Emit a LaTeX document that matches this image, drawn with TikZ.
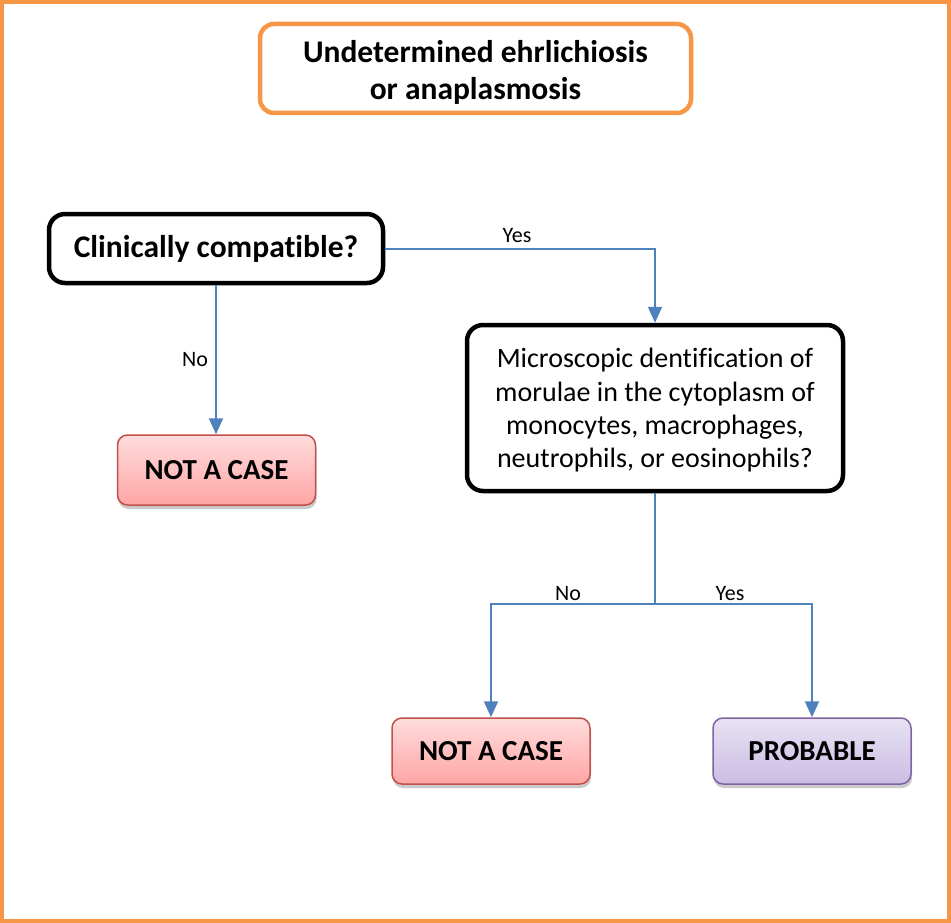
\documentclass[tikz,border=0pt]{standalone}
\usepackage{fontspec}
\setmainfont{Carlito}[Ligatures=NoCommon]
\usetikzlibrary{arrows.meta,shadows}
\definecolor{frameorange}{HTML}{F79646}
\definecolor{flowblue}{HTML}{4F81BD}
\definecolor{redtop}{HTML}{FFDCDC}
\definecolor{redbot}{HTML}{FFA5A5}
\definecolor{redline}{HTML}{C0504D}
\definecolor{purtop}{HTML}{E8E2F4}
\definecolor{purbot}{HTML}{CABDE3}
\definecolor{purline}{HTML}{8064A2}
\tikzset{
  titlebox/.style={draw=frameorange, line width=4.5pt, rounded corners=14pt, fill=white,
    align=center, font=\fontsize{31.5}{37}\selectfont\bfseries, inner sep=0pt},
  qbox/.style={draw=black, line width=4.5pt, rounded corners=16pt, fill=white,
    align=center, inner sep=0pt},
  resbox/.style={line width=1.5pt, rounded corners=10pt, inner sep=0pt,
    font=\fontsize{29}{32}\selectfont\bfseries,
    drop shadow={shadow xshift=1pt, shadow yshift=-4pt, opacity=0.35, fill=black!60}},
  redres/.style={resbox, draw=redline, top color=redtop, bottom color=redbot},
  purres/.style={resbox, draw=purline, top color=purtop, bottom color=purbot},
  flow/.style={draw=flowblue, line width=2pt, -{Triangle[width=14pt,length=16pt]}},
  flowline/.style={draw=flowblue, line width=2pt},
  lbl/.style={font=\fontsize{22}{24}\selectfont, inner sep=0pt}
}
\begin{document}
\begin{tikzpicture}[x=1pt,y=-1pt]
\useasboundingbox (0,0) rectangle (951,923);
\draw[frameorange, line width=4pt] (2,2) rectangle (949,921);

\node[titlebox, minimum width=431pt, minimum height=89pt] (title) at (475.5,68.5)
  {\rule{0pt}{29pt}Undetermined ehrlichiosis\\or anaplasmosis};

\node[qbox, minimum width=334pt, minimum height=69pt,
  font=\fontsize{31.5}{36}\selectfont\bfseries] (clin) at (216,248.5) {Clinically compatible?};

\node[qbox, minimum width=376pt, minimum height=166pt,
  font=\fontsize{28}{33.4}\selectfont] (micro) at (655,408)
  {\rule{0pt}{24pt}Microscopic dentification of\\morulae in the cytoplasm of\\monocytes, macrophages,\\neutrophils, or eosinophils?};

\node[redres, minimum width=198pt, minimum height=70pt] (nac1) at (216.5,470) {NOT A CASE};
\node[redres, minimum width=198pt, minimum height=66pt] (nac2) at (491,751) {NOT A CASE};
\node[purres, minimum width=198pt, minimum height=66pt] (prob) at (812,751) {PROBABLE};

\draw[flow] (clin.east) -| (micro.north);
\node[lbl] (yes1) at (517,236) {Yes};

\draw[flow] (clin.south) -- (clin.south |- nac1.north);
\node[lbl] (no1) at (195,360) {No};

\coordinate (split) at (655,604);
\draw[flowline] (micro.south) -- (split);
\draw[flow] (split) -| (nac2.north);
\draw[flow] (split) -| (prob.north);
\node[lbl] (no2) at (568,594) {No};
\node[lbl] (yes2) at (730,594) {Yes};
\end{tikzpicture}
\end{document}
